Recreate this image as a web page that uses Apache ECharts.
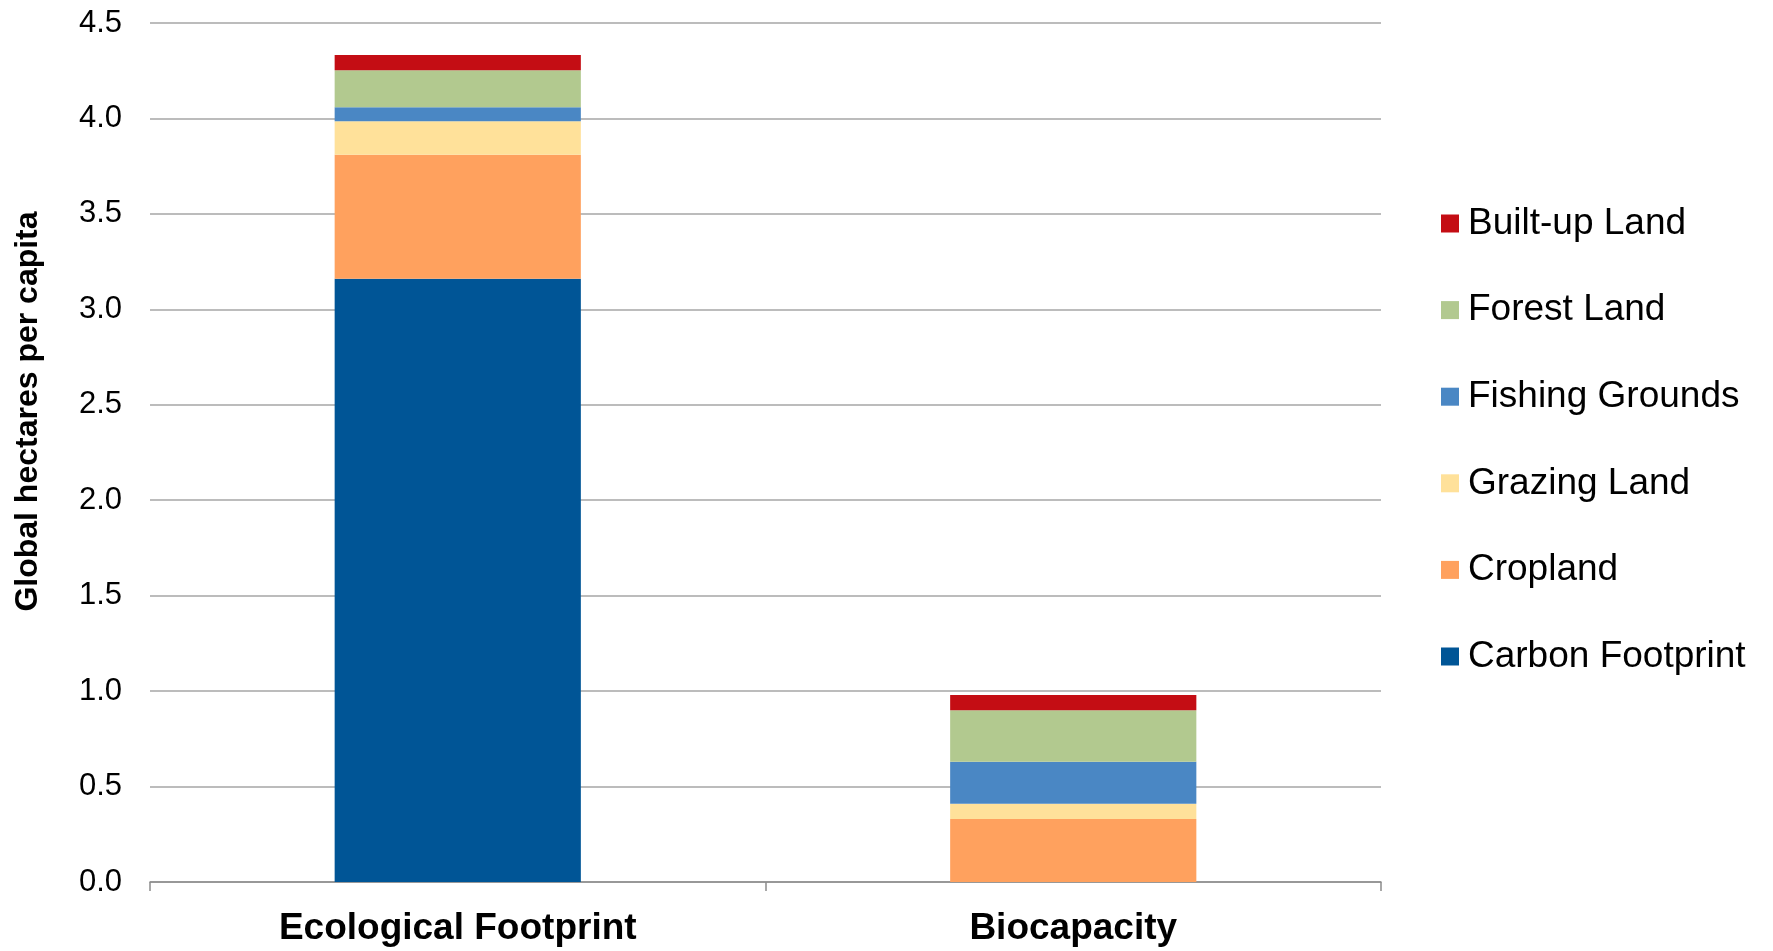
<!DOCTYPE html>
<html>
<head>
<meta charset="utf-8">
<script src="https://cdn.jsdelivr.net/npm/echarts@6/dist/echarts.min.js"></script>
<style>
  html, body { margin: 0; padding: 0; background: #ffffff; }
  #chart { width: 1773px; height: 951px; }
</style>
</head>
<body>
<div id="chart"></div>
<script>
// Ecological Footprint vs. Biocapacity, global hectares per capita
const categories = ['Ecological Footprint', 'Biocapacity'];

const carbonFootprint = [3.16, 0];
const cropland        = [0.65, 0.33];
const grazingLand     = [0.175, 0.08];
const fishingGrounds  = [0.073, 0.22];
const forestLand      = [0.194, 0.27];
const builtUpLand     = [0.081, 0.08];

const seriesNames  = ['Carbon Footprint', 'Cropland', 'Grazing Land', 'Fishing Grounds', 'Forest Land', 'Built-up Land'];
const seriesValues = [carbonFootprint, cropland, grazingLand, fishingGrounds, forestLand, builtUpLand];
const seriesColors = ['#005596', '#ffa15e', '#ffe19a', '#4a87c4', '#b2c98f', '#c40d14'];

const yTicks = { min: 0, max: 4.5, interval: 0.5 };

const chart = echarts.init(document.getElementById('chart'));

chart.setOption({
  backgroundColor: '#ffffff',
  animation: false,
  textStyle: { fontFamily: 'Liberation Sans, Arial, sans-serif' },
  grid: { left: 150, right: 392, top: 23, bottom: 69 },
  legend: {
    orient: 'vertical',
    left: 1436,
    top: 200,
    itemWidth: 18,
    itemHeight: 18,
    itemGap: 49.6,
    icon: 'rect',
    data: seriesNames.slice().reverse(),
    textStyle: { fontSize: 37, color: '#000000', lineHeight: 37, padding: [0, 0, 0, 4] }
  },
  xAxis: {
    type: 'category',
    data: categories,
    axisLine: { show: true, lineStyle: { color: '#8c8c8c', width: 1.5 } },
    axisTick: { show: true, length: 9, lineStyle: { color: '#8c8c8c', width: 1.5 } },
    axisLabel: { fontSize: 37, fontWeight: 'bold', color: '#000000', margin: 28 }
  },
  yAxis: {
    type: 'value',
    min: yTicks.min,
    max: yTicks.max,
    interval: yTicks.interval,
    name: 'Global hectares per capita',
    nameLocation: 'middle',
    nameGap: 106,
    nameTextStyle: { fontSize: 32, fontWeight: 'bold', color: '#000000', padding: [0, 0, 0, 82] },
    axisLine: { show: false },
    axisTick: { show: false },
    axisLabel: {
      fontSize: 31,
      color: '#000000',
      margin: 28,
      formatter: v => v.toFixed(1)
    },
    splitLine: { lineStyle: { color: '#a6a6a6', width: 1.5 } }
  },
  series: seriesNames.map((name, i) => ({
    name,
    type: 'bar',
    stack: 'total',
    barWidth: '40%',
    data: seriesValues[i],
    itemStyle: { color: seriesColors[i] }
  }))
});
</script>
</body>
</html>
